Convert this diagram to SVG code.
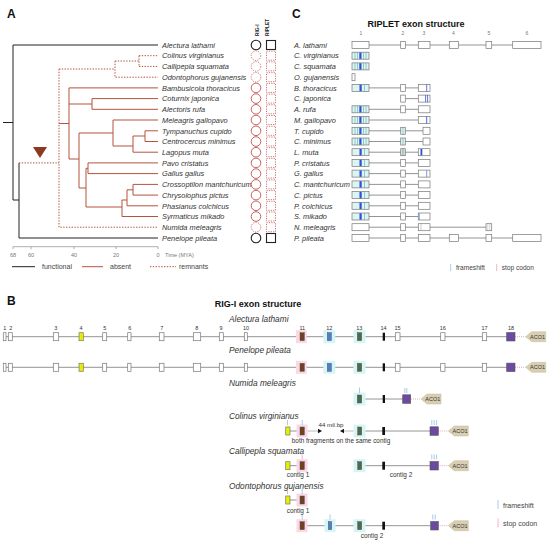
<svg xmlns="http://www.w3.org/2000/svg" width="550" height="541" viewBox="0 0 550 541">
<style>
text{font-family:"Liberation Sans",Arial,sans-serif;fill:#222}
.pl{font-size:12px;font-weight:bold;fill:#111}
.ttl{font-size:9px;font-weight:bold;fill:#111}
.sp{font-size:7.4px;font-style:italic;fill:#333}
.spb{font-size:8.3px;font-style:italic;fill:#333}
.num{font-size:5px;fill:#777}
.numb{font-size:5.5px;fill:#333}
.sm{font-size:6.4px;fill:#333}
.lg{font-size:7px;fill:#444}
.ax{font-size:5.5px;fill:#777}
.k{stroke:#222;stroke-width:1;fill:none}
.r{stroke:#b5533d;stroke-width:1;fill:none}
.rd{stroke:#b5533d;stroke-width:1;fill:none;stroke-dasharray:1.4 1.4}
.ck{stroke:#222;stroke-width:1.1;fill:#fff}
.cr{stroke:#c0504d;stroke-width:0.9;fill:#fff}
.crd{stroke:#c0504d;stroke-width:0.8;fill:none;stroke-dasharray:1.2 1.2}
.ex{fill:#fff;stroke:#777;stroke-width:0.7}
.in{stroke:#888;stroke-width:0.9;fill:none}
.cy{fill:#dcf4f2;stroke:#777;stroke-width:0.7}
.tl{stroke:#4aa3a3;stroke-width:0.5}
.bb{fill:#2f4fd8}
.fs{stroke:#8fbfe8;stroke-width:0.8}
.st{stroke:#f0a0b8;stroke-width:0.8}
.gt{stroke:#999;stroke-width:0.6}
.y4{fill:#e5ef00;stroke:#777;stroke-width:0.7}
.br{fill:#6f4022;stroke:#555;stroke-width:0.5}
.bl{fill:#4d7fd1;stroke:#555;stroke-width:0.5}
.gr{fill:#4e6b49;stroke:#555;stroke-width:0.5}
.bk{fill:#111}
.pu{fill:#6b4aa0;stroke:#555;stroke-width:0.6}
.pk{fill:#fcd7e6}
.cb{fill:#d8f5f5}
.aco{fill:#d8ceb2;stroke:#c4b894;stroke-width:0.5}
.acot{font-size:5.5px;fill:#333}
.dt{stroke:#c9a0a8;stroke-width:0.8;stroke-dasharray:1 1}
</style>
<defs>
<g id="e1a"><rect class="cy" x="0" y="-3.5" width="17" height="7"/><line class="tl" x1="3" y1="-3.5" x2="3" y2="3.5"/><line class="tl" x1="5.5" y1="-3.5" x2="5.5" y2="3.5"/><line class="tl" x1="11.5" y1="-3.5" x2="11.5" y2="3.5"/><line class="tl" x1="14" y1="-3.5" x2="14" y2="3.5"/><rect class="bb" x="7.3" y="-3.2" width="2.2" height="6.4"/></g>
<g id="e1b"><rect class="cy" x="0" y="-3.5" width="17" height="7"/><line class="tl" x1="12.5" y1="-3.5" x2="12.5" y2="3.5"/><rect class="bb" x="7.5" y="-3.2" width="2.2" height="6.4"/></g>
<polygon id="aco" class="aco" points="0,0 6,-5 20,-5 20,5 6,5"/>
</defs>

<!-- Panel A -->
<text class="pl" x="7" y="18">A</text>
<g id="treeA">
<path class="k" d="M3,122.5H13M13,45V200M13,45H158M13,200H19M19,162.9V238H158"/>
<path class="rd" d="M19,162.9H59M59,69V227.2H158M59,69H115M115,61V77.2H158M115,61H139M139,55.7V66.4M139,55.7H158M139,66.4H158"/>
<path class="r" d="M59,123.5H69M69,87.9V159M69,87.9H158M69,104H92M92,98.6V109.3M92,98.6H158M92,109.3H158M69,159H79M79,133V188M79,133H113M113,120V146M113,120H158M113,146H133M133,136V152.2H158M133,136H145M145,130.8V141.5M145,130.8H158M145,141.5H158M79,188H86M86,168.3V207M86,168.3H88M88,162.9V173.6M88,162.9H158M88,173.6H158M86,207H122M122,200V216.5H158M122,200H127M127,189.8V205.8H158M127,189.8H133M133,184.4V195.1M133,184.4H158M133,195.1H158"/>
<polygon points="33,147 47,147 40,158" fill="#8a3b1f"/>
</g>
<g id="axisA">
<line x1="13" y1="246.7" x2="158" y2="246.7" stroke="#999" stroke-width="0.8"/>
<path d="M13,246.7v2.5M31,246.7v2.5M74,246.7v2.5M116,246.7v2.5M158,246.7v2.5" stroke="#999" stroke-width="0.8"/>
<text class="ax" x="13" y="256.5" text-anchor="middle">68</text>
<text class="ax" x="31" y="256.5" text-anchor="middle">60</text>
<text class="ax" x="74" y="256.5" text-anchor="middle">40</text>
<text class="ax" x="116" y="256.5" text-anchor="middle">20</text>
<text class="ax" x="158" y="256.5" text-anchor="middle">0</text>
<text class="ax" x="165" y="256.5">Time (MYA)</text>
</g>
<g id="legendA">
<line class="k" x1="12" y1="266.7" x2="35" y2="266.7"/><text class="lg" x="42" y="269">functional</text>
<line class="r" x1="82" y1="266.7" x2="103" y2="266.7"/><text class="lg" x="110" y="269">absent</text>
<line class="rd" x1="150" y1="266.7" x2="176" y2="266.7"/><text class="lg" x="179" y="269">remnants</text>
</g>
<text x="259" y="36" transform="rotate(-90 259 36)" style="font-size:4.8px;font-weight:bold">RIG-I</text>
<text x="268.5" y="36" transform="rotate(-90 268.5 36)" style="font-size:4.8px;font-weight:bold">RIPLET</text>
<g id="speciesA">
<g id="a0"><text class="sp" x="162" y="47.7">Alectura lathami</text><circle class="ck" cx="256" cy="45" r="4.8"/><rect class="ck" x="266.5" y="40.5" width="9" height="9"/></g>
<g id="a1"><text class="sp" x="162" y="58.4">Colinus virginianus</text><circle class="crd" cx="256" cy="55.7" r="4.8"/><rect class="crd" x="266.5" y="51.2" width="9" height="9"/></g>
<g id="a2"><text class="sp" x="162" y="69.1">Callipepla squamata</text><circle class="crd" cx="256" cy="66.4" r="4.8"/><rect class="crd" x="266.5" y="61.9" width="9" height="9"/></g>
<g id="a3"><text class="sp" x="162" y="79.9">Odontophorus gujanensis</text><circle class="crd" cx="256" cy="77.2" r="4.8"/><rect class="crd" x="266.5" y="72.7" width="9" height="9"/></g>
<g id="a4"><text class="sp" x="162" y="90.6">Bambusicola thoracicus</text><circle class="cr" cx="256" cy="87.9" r="4.8"/><rect class="crd" x="266.5" y="83.4" width="9" height="9"/></g>
<g id="a5"><text class="sp" x="162" y="101.3">Coturnix japonica</text><circle class="cr" cx="256" cy="98.6" r="4.8"/><rect class="crd" x="266.5" y="94.1" width="9" height="9"/></g>
<g id="a6"><text class="sp" x="162" y="112">Alectoris rufa</text><circle class="cr" cx="256" cy="109.3" r="4.8"/><rect class="crd" x="266.5" y="104.8" width="9" height="9"/></g>
<g id="a7"><text class="sp" x="162" y="122.7">Meleagris gallopavo</text><circle class="cr" cx="256" cy="120" r="4.8"/><rect class="crd" x="266.5" y="115.5" width="9" height="9"/></g>
<g id="a8"><text class="sp" x="162" y="133.5">Tympanuchus cupido</text><circle class="cr" cx="256" cy="130.8" r="4.8"/><rect class="crd" x="266.5" y="126.3" width="9" height="9"/></g>
<g id="a9"><text class="sp" x="162" y="144.2">Centrocercus minimus</text><circle class="cr" cx="256" cy="141.5" r="4.8"/><rect class="crd" x="266.5" y="137" width="9" height="9"/></g>
<g id="a10"><text class="sp" x="162" y="154.9">Lagopus muta</text><circle class="cr" cx="256" cy="152.2" r="4.8"/><rect class="crd" x="266.5" y="147.7" width="9" height="9"/></g>
<g id="a11"><text class="sp" x="162" y="165.6">Pavo cristatus</text><circle class="cr" cx="256" cy="162.9" r="4.8"/><rect class="crd" x="266.5" y="158.4" width="9" height="9"/></g>
<g id="a12"><text class="sp" x="162" y="176.3">Gallus gallus</text><circle class="cr" cx="256" cy="173.6" r="4.8"/><rect class="crd" x="266.5" y="169.1" width="9" height="9"/></g>
<g id="a13"><text class="sp" x="162" y="187.1">Crossoptilon mantchuricum</text><circle class="cr" cx="256" cy="184.4" r="4.8"/><rect class="crd" x="266.5" y="179.9" width="9" height="9"/></g>
<g id="a14"><text class="sp" x="162" y="197.8">Chrysolophus pictus</text><circle class="cr" cx="256" cy="195.1" r="4.8"/><rect class="crd" x="266.5" y="190.6" width="9" height="9"/></g>
<g id="a15"><text class="sp" x="162" y="208.5">Phasianus colchicus</text><circle class="cr" cx="256" cy="205.8" r="4.8"/><rect class="crd" x="266.5" y="201.3" width="9" height="9"/></g>
<g id="a16"><text class="sp" x="162" y="219.2">Syrmaticus mikado</text><circle class="cr" cx="256" cy="216.5" r="4.8"/><rect class="crd" x="266.5" y="212" width="9" height="9"/></g>
<g id="a17"><text class="sp" x="162" y="229.9">Numida meleagris</text><circle class="crd" cx="256" cy="227.2" r="4.8"/><rect class="crd" x="266.5" y="222.7" width="9" height="9"/></g>
<g id="a18"><text class="sp" x="162" y="240.7">Penelope pileata</text><circle class="ck" cx="256" cy="238" r="4.8"/><rect class="ck" x="266.5" y="233.5" width="9" height="9"/></g>
</g>

<!-- Panel C -->
<text class="pl" x="292" y="18">C</text>
<text class="ttl" x="416" y="27" text-anchor="middle">RIPLET exon structure</text>
<g id="numsC">
<text class="num" x="361" y="35" text-anchor="middle">1</text>
<text class="num" x="403" y="35" text-anchor="middle">2</text>
<text class="num" x="424" y="35" text-anchor="middle">3</text>
<text class="num" x="453.5" y="35" text-anchor="middle">4</text>
<text class="num" x="489" y="35" text-anchor="middle">5</text>
<text class="num" x="527" y="35" text-anchor="middle">6</text>
</g>
<g id="rowsC">
<g id="c0"><text class="sp" x="294" y="47.7">A. lathami</text><line class="in" x1="369" y1="45" x2="513" y2="45"/><rect class="ex" x="352" y="41.5" width="17" height="7"/><rect class="ex" x="400.7" y="41.5" width="4.6" height="7"/><rect class="ex" x="418.3" y="41.5" width="11.7" height="7"/><rect class="ex" x="449.3" y="41.5" width="9" height="7"/><rect class="ex" x="486" y="41.5" width="5.7" height="7"/><rect class="ex" x="512.7" y="41.5" width="28.3" height="7"/></g>
<g id="c1"><text class="sp" x="294" y="58.4">C. virginianus</text><use href="#e1a" x="352" y="55.7"/></g>
<g id="c2"><text class="sp" x="294" y="69.1">C. squamata</text><use href="#e1a" x="352" y="66.4"/></g>
<g id="c3"><text class="sp" x="294" y="79.9">O. gujanensis</text><rect class="ex" x="352" y="73.7" width="3" height="7"/></g>
<g id="c4"><text class="sp" x="294" y="90.6">B. thoracicus</text><line class="in" x1="369" y1="87.9" x2="418.3" y2="87.9"/><use href="#e1b" x="352" y="87.9"/><rect class="ex" x="400.7" y="84.4" width="4.6" height="7"/><rect class="ex" x="418.3" y="84.4" width="11.7" height="7"/><line x1="426.7" y1="84.4" x2="426.7" y2="91.4" stroke="#3355dd" stroke-width="0.8"/></g>
<g id="c5"><text class="sp" x="294" y="101.3">C. japonica</text><line class="in" x1="405.3" y1="98.6" x2="418.3" y2="98.6"/><rect class="ex" x="400.7" y="95.1" width="4.6" height="7"/><rect class="ex" x="418.3" y="95.1" width="11.7" height="7"/><path d="M425.6,95.1v7M427.6,95.1v7" stroke="#3355dd" stroke-width="0.8"/></g>
<g id="c6"><text class="sp" x="294" y="112">A. rufa</text><line class="in" x1="369" y1="109.3" x2="418.3" y2="109.3"/><use href="#e1a" x="352" y="109.3"/><rect class="ex" x="400.7" y="105.8" width="4.6" height="7"/><rect class="ex" x="418.3" y="105.8" width="11.7" height="7"/></g>
<g id="c7"><text class="sp" x="294" y="122.7">M. gallopavo</text><line class="in" x1="369" y1="120" x2="418.3" y2="120"/><use href="#e1a" x="352" y="120"/><rect class="ex" x="418.3" y="116.5" width="11.7" height="7"/><path d="M426.7,116.5v7" stroke="#3355dd" stroke-width="0.9"/></g>
<g id="c8"><text class="sp" x="294" y="133.5">T. cupido</text><line class="in" x1="369" y1="130.8" x2="423" y2="130.8"/><use href="#e1a" x="352" y="130.8"/><rect class="cy" x="400.7" y="127.3" width="4.6" height="7"/><line class="tl" x1="403" y1="127.3" x2="403" y2="134.3"/><rect class="ex" x="423" y="127.3" width="7" height="7"/></g>
<g id="c9"><text class="sp" x="294" y="144.2">C. minimus</text><line class="in" x1="369" y1="141.5" x2="423" y2="141.5"/><use href="#e1a" x="352" y="141.5"/><rect class="cy" x="400.7" y="138" width="4.6" height="7"/><line class="tl" x1="403" y1="138" x2="403" y2="145"/><rect class="ex" x="423" y="138" width="7" height="7"/></g>
<g id="c10"><text class="sp" x="294" y="154.9">L. muta</text><line class="in" x1="369" y1="152.2" x2="418.3" y2="152.2"/><use href="#e1b" x="352" y="152.2"/><rect class="cy" x="400.7" y="148.7" width="4.6" height="7"/><path d="M402.3,148.7v7M403.8,148.7v7" stroke="#777" stroke-width="0.5"/><rect class="ex" x="418.3" y="148.7" width="11.7" height="7"/><rect class="bb" x="420.5" y="149" width="1.8" height="6.4"/></g>
<g id="c11"><text class="sp" x="294" y="165.6">P. cristatus</text><line class="in" x1="369" y1="162.9" x2="418.3" y2="162.9"/><use href="#e1b" x="352" y="162.9"/><rect class="ex" x="400.7" y="159.4" width="4.6" height="7"/><rect class="ex" x="418.3" y="159.4" width="11.7" height="7"/></g>
<g id="c12"><text class="sp" x="294" y="176.3">G. gallus</text><line class="in" x1="369" y1="173.6" x2="418.3" y2="173.6"/><use href="#e1b" x="352" y="173.6"/><rect class="ex" x="400.7" y="170.1" width="4.6" height="7"/><rect class="ex" x="418.3" y="170.1" width="11.7" height="7"/><path d="M426.7,170.1v7" stroke="#6a8ee6" stroke-width="0.9"/></g>
<g id="c13"><text class="sp" x="294" y="187.1">C. mantchuricum</text><line class="in" x1="369" y1="184.4" x2="418.3" y2="184.4"/><use href="#e1b" x="352" y="184.4"/><rect class="ex" x="400.7" y="180.9" width="4.6" height="7"/><rect class="ex" x="418.3" y="180.9" width="11.7" height="7"/></g>
<g id="c14"><text class="sp" x="294" y="197.8">C. pictus</text><line class="in" x1="369" y1="195.1" x2="418.3" y2="195.1"/><use href="#e1b" x="352" y="195.1"/><rect class="ex" x="400.7" y="191.6" width="4.6" height="7"/><rect class="ex" x="418.3" y="191.6" width="11.7" height="7"/></g>
<g id="c15"><text class="sp" x="294" y="208.5">P. colchicus</text><line class="in" x1="369" y1="205.8" x2="418.3" y2="205.8"/><use href="#e1b" x="352" y="205.8"/><rect class="ex" x="400.7" y="202.3" width="4.6" height="7"/><rect class="ex" x="418.3" y="202.3" width="11.7" height="7"/></g>
<g id="c16"><text class="sp" x="294" y="219.2">S. mikado</text><line class="in" x1="369" y1="216.5" x2="418.3" y2="216.5"/><use href="#e1b" x="352" y="216.5"/><rect class="ex" x="400.7" y="213" width="4.6" height="7"/><rect class="ex" x="418.3" y="213" width="11.7" height="7"/><path d="M419.3,213v7" stroke="#6a8ee6" stroke-width="0.8"/></g>
<g id="c17"><text class="sp" x="294" y="229.9">N. meleagris</text><line class="in" x1="369" y1="227.2" x2="486" y2="227.2"/><rect class="ex" x="352" y="223.7" width="17" height="7"/><rect class="ex" x="400.7" y="223.7" width="4.6" height="7"/><rect class="ex" x="418.3" y="223.7" width="11.7" height="7"/><path d="M421,223.7v7" stroke="#aaa" stroke-width="0.6"/><rect class="ex" x="486" y="223.7" width="5.7" height="7"/><path d="M487.8,223.7v7M489.8,223.7v7" stroke="#aaa" stroke-width="0.5"/></g>
<g id="c18"><text class="sp" x="294" y="240.7">P. pileata</text><line class="in" x1="369" y1="238" x2="513" y2="238"/><rect class="ex" x="352" y="234.5" width="17" height="7"/><rect class="ex" x="400.7" y="234.5" width="4.6" height="7"/><rect class="ex" x="418.3" y="234.5" width="11.7" height="7"/><rect class="ex" x="449.3" y="234.5" width="9" height="7"/><rect class="ex" x="486" y="234.5" width="5.7" height="7"/><rect class="ex" x="512.7" y="234.5" width="28.3" height="7"/></g>
</g>
<g id="legendC">
<line class="fs" x1="450.7" y1="264" x2="450.7" y2="271"/><text class="lg" x="456" y="270" style="font-size:6.6px">frameshift</text>
<line class="st" x1="496.7" y1="264" x2="496.7" y2="271"/><text class="lg" x="501.7" y="270" style="font-size:6.6px">stop codon</text>
</g>

<!-- Panel B -->
<text class="pl" x="7" y="305">B</text>
<text class="ttl" x="258" y="306.5" text-anchor="middle">RIG-I exon structure</text>
<g id="b1">
<text class="spb" x="229" y="322">Alectura lathami</text>
<line class="in" x1="4" y1="336.7" x2="507" y2="336.7"/>
<line class="dt" x1="515" y1="336.7" x2="525.7" y2="336.7"/>
<rect class="pk" x="296" y="330.2" width="10.7" height="13"/><rect class="cb" x="323.3" y="330.2" width="12" height="13"/><rect class="cb" x="353.5" y="330.2" width="12" height="13"/>
<rect class="ex" x="3.3" y="332.7" width="2.7" height="8"/><rect class="ex" x="8.3" y="332.7" width="4" height="8"/><rect class="ex" x="53.3" y="332.7" width="5.4" height="8"/><rect class="y4" x="79" y="332.7" width="4.3" height="8"/><rect class="ex" x="102.7" y="332.7" width="4" height="8"/><rect class="ex" x="127.7" y="332.7" width="3.3" height="8"/><rect class="ex" x="159.3" y="332.7" width="4.7" height="8"/><rect class="ex" x="193.3" y="332.7" width="7.4" height="8"/><rect class="ex" x="219.3" y="332.7" width="4" height="8"/><rect class="ex" x="244.3" y="332.7" width="3" height="8"/><rect class="br" x="300" y="332.7" width="4.3" height="8"/><rect class="bl" x="327.3" y="332.7" width="4" height="8"/><rect class="gr" x="357.3" y="332.7" width="4.4" height="8"/><rect class="bk" x="382.7" y="332.7" width="2.3" height="8"/><rect class="ex" x="395.3" y="332.7" width="4.7" height="8"/><rect class="ex" x="440.7" y="332.7" width="4.3" height="8"/><rect class="ex" x="482.3" y="332.7" width="4.4" height="8"/><rect class="pu" x="506.7" y="332.5" width="8.3" height="8.5"/>
<use href="#aco" x="525.7" y="336.7"/><text class="acot" x="537.5" y="338.6" text-anchor="middle">ACO1</text>
<text class="numb" x="4.7" y="330" text-anchor="middle">1</text><text class="numb" x="10.7" y="330" text-anchor="middle">2</text><text class="numb" x="55.7" y="330" text-anchor="middle">3</text><text class="numb" x="81" y="330" text-anchor="middle">4</text><text class="numb" x="104.7" y="330" text-anchor="middle">5</text><text class="numb" x="129.7" y="330" text-anchor="middle">6</text><text class="numb" x="161.7" y="330" text-anchor="middle">7</text><text class="numb" x="196.7" y="330" text-anchor="middle">8</text><text class="numb" x="221" y="330" text-anchor="middle">9</text><text class="numb" x="246" y="330" text-anchor="middle">10</text><text class="numb" x="302.3" y="330" text-anchor="middle">11</text><text class="numb" x="329.3" y="330" text-anchor="middle">12</text><text class="numb" x="359.3" y="330" text-anchor="middle">13</text><text class="numb" x="383.5" y="330" text-anchor="middle">14</text><text class="numb" x="397.5" y="330" text-anchor="middle">15</text><text class="numb" x="442.7" y="330" text-anchor="middle">16</text><text class="numb" x="484.5" y="330" text-anchor="middle">17</text><text class="numb" x="511" y="330" text-anchor="middle">18</text>
</g>
<g id="b2">
<text class="spb" x="229" y="353">Penelope pileata</text>
<line class="in" x1="4" y1="367.3" x2="507" y2="367.3"/>
<line class="dt" x1="515" y1="367.3" x2="525.7" y2="367.3"/>
<rect class="pk" x="296" y="360.8" width="10.7" height="13"/><rect class="cb" x="323.3" y="360.8" width="12" height="13"/><rect class="cb" x="353.5" y="360.8" width="12" height="13"/>
<rect class="ex" x="3.3" y="363.3" width="2.7" height="8"/><rect class="ex" x="8.3" y="363.3" width="4" height="8"/><rect class="ex" x="53.3" y="363.3" width="5.4" height="8"/><rect class="y4" x="79" y="363.3" width="4.3" height="8"/><rect class="ex" x="102.7" y="363.3" width="4" height="8"/><rect class="ex" x="127.7" y="363.3" width="3.3" height="8"/><rect class="ex" x="159.3" y="363.3" width="4.7" height="8"/><rect class="ex" x="193.3" y="363.3" width="7.4" height="8"/><rect class="ex" x="219.3" y="363.3" width="4" height="8"/><rect class="ex" x="244.3" y="363.3" width="3" height="8"/><rect class="br" x="300" y="363.3" width="4.3" height="8"/><rect class="bl" x="327.3" y="363.3" width="4" height="8"/><rect class="gr" x="357.3" y="363.3" width="4.4" height="8"/><rect class="bk" x="382.7" y="363.3" width="2.3" height="8"/><rect class="ex" x="395.3" y="363.3" width="4.7" height="8"/><rect class="ex" x="440.7" y="363.3" width="4.3" height="8"/><rect class="ex" x="482.3" y="363.3" width="4.4" height="8"/><rect class="pu" x="506.7" y="363.1" width="8.3" height="8.5"/>
<use href="#aco" x="525.7" y="367.3"/><text class="acot" x="537.5" y="369.2" text-anchor="middle">ACO1</text>
</g>
<g id="b3">
<text class="spb" x="229" y="386">Numida meleagris</text>
<line class="in" x1="361" y1="399" x2="403" y2="399"/>
<line class="dt" x1="411" y1="399" x2="421" y2="399"/>
<rect class="cb" x="353.5" y="392.5" width="12" height="13"/>
<rect class="gr" x="357.3" y="395" width="4.4" height="8"/><rect class="bk" x="382.7" y="395" width="2.3" height="8"/><rect class="pu" x="402.7" y="394.8" width="8" height="8.5"/>
<line class="fs" x1="359.5" y1="387.5" x2="359.5" y2="393"/><path class="fs" d="M404.8,388v5M406.8,388v5"/>
<use href="#aco" x="421" y="399"/><text class="acot" x="432.8" y="400.9" text-anchor="middle">ACO1</text>
</g>
<g id="b4">
<text class="spb" x="229" y="418.5">Colinus virginianus</text>
<line class="in" x1="290" y1="431" x2="300" y2="431"/>
<line x1="304" y1="431" x2="318" y2="431" stroke="#aaa" stroke-width="0.8"/>
<polygon points="318,428.8 322,431 318,433.2" fill="#111"/>
<text class="sm" x="331" y="426.5" text-anchor="middle" style="font-size:6.2px">44 mil.bp</text>
<polygon points="344,428.8 340,431 344,433.2" fill="#111"/>
<line x1="344" y1="431" x2="357.3" y2="431" stroke="#aaa" stroke-width="0.8"/>
<line class="in" x1="361" y1="431" x2="430" y2="431"/>
<line class="dt" x1="438.3" y1="431" x2="448.3" y2="431"/>
<rect class="pk" x="296.5" y="424.5" width="11" height="13"/><rect class="cb" x="353.5" y="424.5" width="12" height="13"/>
<rect class="y4" x="285.7" y="427" width="4.3" height="8"/><rect class="br" x="300" y="427" width="4.3" height="8"/><rect class="gr" x="357.7" y="427" width="4" height="8"/><rect class="bk" x="382.3" y="427" width="2.7" height="8"/><rect class="pu" x="430" y="426.8" width="8.3" height="8.5"/>
<line class="gt" x1="287.5" y1="420" x2="287.5" y2="425"/><line class="fs" x1="302.2" y1="420" x2="302.2" y2="425"/><path class="fs" d="M431.8,420v5M434.2,420v5M436.6,420v5"/>
<use href="#aco" x="448.3" y="431"/><text class="acot" x="460" y="432.9" text-anchor="middle">ACO1</text>
<text class="sm" x="341" y="442.5" text-anchor="middle">both fragments on the same contig</text>
</g>
<g id="b5">
<text class="spb" x="229" y="453.5">Callipepla squamata</text>
<line class="in" x1="290" y1="465.7" x2="300" y2="465.7"/>
<line class="in" x1="361" y1="465.7" x2="430" y2="465.7"/>
<line class="dt" x1="438.3" y1="465.7" x2="448.3" y2="465.7"/>
<rect class="pk" x="296.5" y="459.2" width="11" height="13"/><rect class="cb" x="353.5" y="459.2" width="12" height="13"/>
<rect class="y4" x="285.7" y="461.7" width="4.3" height="8"/><rect class="br" x="300" y="461.7" width="4.3" height="8"/><rect class="gr" x="357.7" y="461.7" width="4" height="8"/><rect class="bk" x="382.3" y="461.7" width="2.7" height="8"/><rect class="pu" x="430" y="461.5" width="8.3" height="8.5"/>
<line class="st" x1="302.2" y1="454.5" x2="302.2" y2="459.5"/><path class="fs" d="M431.8,454.5v5M434.2,454.5v5M436.6,454.5v5"/>
<use href="#aco" x="448.3" y="465.7"/><text class="acot" x="460" y="467.6" text-anchor="middle">ACO1</text>
<text class="sm" x="298" y="477" text-anchor="middle">contig 1</text>
<text class="sm" x="401" y="477" text-anchor="middle">contig 2</text>
</g>
<g id="b6">
<text class="spb" x="229" y="488.5">Odontophorus gujanensis</text>
<line class="in" x1="290" y1="500" x2="300" y2="500"/>
<rect class="pk" x="296.5" y="493.5" width="11" height="13"/>
<rect class="y4" x="285.7" y="496" width="4.3" height="8"/><rect class="br" x="300" y="496" width="4.3" height="8"/>
<line class="gt" x1="287.5" y1="489" x2="287.5" y2="494"/><line class="fs" x1="302.2" y1="489" x2="302.2" y2="494"/>
<text class="sm" x="298" y="512.5" text-anchor="middle">contig 1</text>
</g>
<g id="b7">
<line class="in" x1="304" y1="525.7" x2="430.7" y2="525.7"/>
<line class="dt" x1="438.3" y1="525.7" x2="448.3" y2="525.7"/>
<rect class="pk" x="296.5" y="519.2" width="11" height="13"/><rect class="cb" x="324.5" y="519.2" width="11" height="13"/><rect class="cb" x="353.5" y="519.2" width="12" height="13"/>
<rect class="br" x="300" y="521.7" width="4.3" height="8"/><rect class="bl" x="328.3" y="521.7" width="3.4" height="8"/><rect class="gr" x="357.7" y="521.7" width="4" height="8"/><rect class="bk" x="382.3" y="521.7" width="2.7" height="8"/><rect class="pu" x="430.7" y="521.5" width="7.6" height="8.5"/>
<line class="fs" x1="302.2" y1="514.5" x2="302.2" y2="519.5"/><line class="fs" x1="330" y1="514.5" x2="330" y2="519.5"/><path class="fs" d="M432.8,514.5v5M435.2,514.5v5"/>
<use href="#aco" x="448.3" y="525.7"/><text class="acot" x="460" y="527.6" text-anchor="middle">ACO1</text>
<text class="sm" x="372" y="537.5" text-anchor="middle">contig 2</text>
</g>
<g id="legendB">
<line class="fs" x1="498" y1="500" x2="498" y2="509"/><text class="lg" x="503" y="507.5">frameshift</text>
<line class="st" x1="498" y1="518.5" x2="498" y2="527.5"/><text class="lg" x="503" y="526">stop codon</text>
</g>
</svg>
